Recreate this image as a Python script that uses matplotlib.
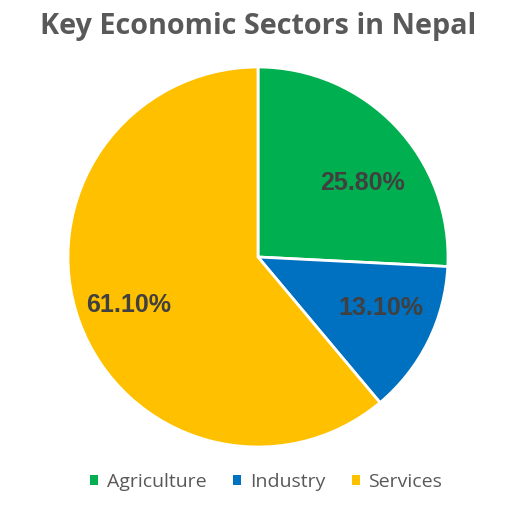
import matplotlib.pyplot as plt
from matplotlib.patches import Patch

sectors = ["Agriculture", "Industry", "Services"]
shares = [25.8, 13.1, 61.1]
colors = ["#00B050", "#0070C0", "#FFC000"]

# small nudges so the percent labels sit where the original chart puts them
label_nudges = [(0.042, -0.092), (0.021, 0.044), (-0.024, -0.012)]

fig = plt.figure(figsize=(5.16, 5.08), dpi=100)
ax = fig.add_axes([68 / 516, 61 / 508, 380 / 516, 380 / 508])

wedges, texts, autotexts = ax.pie(
    shares, colors=colors, startangle=90, counterclock=False,
    autopct="%.2f%%", pctdistance=0.70,
    wedgeprops=dict(edgecolor="white", linewidth=2),
    textprops=dict(fontfamily="Liberation Sans", fontweight="bold",
                   fontsize=18, color="#404040"),
)
for t, (dx, dy) in zip(autotexts, label_nudges):
    x, y = t.get_position()
    t.set_position((x + dx, y + dy))

ax.set_xlim(-1, 1)
ax.set_ylim(-1, 1)
ax.set_aspect("equal")

fig.text(0.5, 0.948, "Key Economic Sectors in Nepal", ha="center", va="center",
         fontsize=20.7, fontweight="bold", color="#595959", fontfamily="Open Sans")

handles = [Patch(facecolor=c, edgecolor="none") for c in colors]
fig.legend(handles, sectors, loc="center", bbox_to_anchor=(0.516, 0.052), ncol=3,
           frameon=False, handlelength=0.42, handleheight=0.42, handletextpad=0.45,
           columnspacing=1.35, prop=dict(family="Open Sans", size=14),
           labelcolor="#595959")

fig.savefig("out.png", dpi=100)
